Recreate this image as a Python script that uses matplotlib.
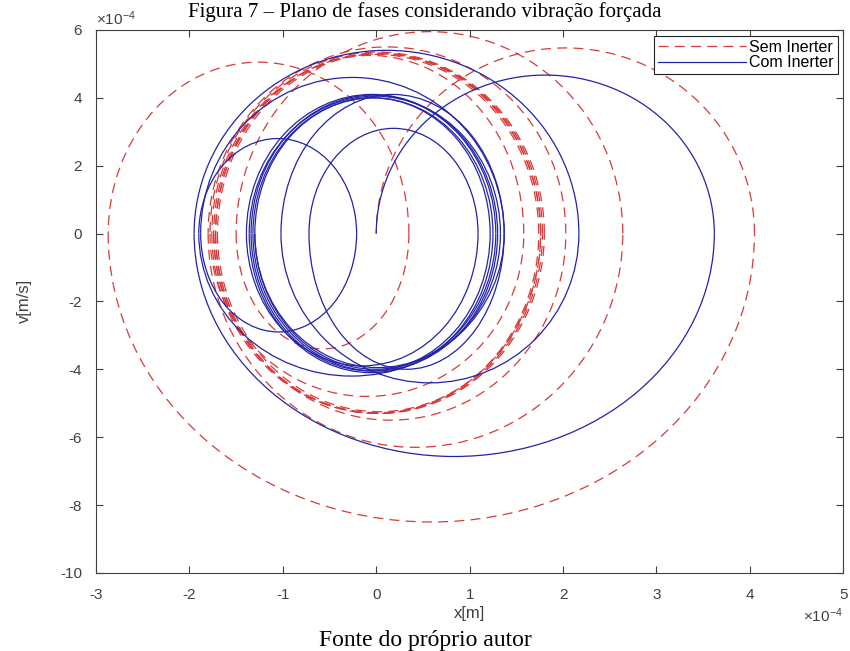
import matplotlib
matplotlib.use("Agg")
import matplotlib.pyplot as plt
from matplotlib.patches import Arc
from matplotlib.lines import Line2D

# leituras do grafico (unidades de 1e-4): cruzamentos em v=0 e pico de cada meia volta
x_sem = [0.0, 4.05, -2.87, 0.35, -1.50, 2.64, -1.80, 2.03, -1.72, 1.58, -1.78,
         1.80, -1.74, 1.76, -1.70, 1.78, -1.76, 1.74, -1.72, 1.76, -1.74]
v_sem = [5.47, -8.50, 5.05, -3.40, 5.95, -6.30, 5.50, -5.50, 5.25, -4.80,
         5.35, -5.30, 5.30, -5.25, 5.30, -5.30, 5.28, -5.30, 5.32, -5.28]

x_com = [0.0, 3.62, -1.95, 2.17, -1.02, 1.37, -1.90, -0.21, -1.88, 1.37, -0.72,
         1.09, -1.39, 1.30, -1.32, 1.25, -1.36, 1.33, -1.30, 1.22, -1.34, 1.28, -1.30]
v_com = [4.67, -6.57, 5.40, -4.40, 4.10, -4.20, 2.80, -2.90, 4.60, -4.00,
         3.10, -3.90, 4.10, -4.05, 4.00, -4.10, 4.05, -3.95, 4.00, -4.05, 4.08, -4.00]

xticks = [-3, -2, -1, 0, 1, 2, 3, 4, 5]
yticks = [-10, -8, -6, -4, -2, 0, 2, 4, 6]

cor_sem = '#d63a3a'
cor_com = '#2323a8'
cinza = '#404040'
traco = (0, (8, 5))

plt.rcParams['font.family'] = ['Liberation Sans', 'DejaVu Sans']
plt.rcParams['axes.unicode_minus'] = False

fig = plt.figure(figsize=(8.5, 6.51), dpi=100)
ax = fig.add_axes([0.113, 0.12, 0.879, 0.834])


def espiral(ax, xs, vs, cor, ls):
    # cada meia volta vira um arco de elipse entre dois cruzamentos
    for i in range(len(vs)):
        xa, xb = xs[i], xs[i + 1]
        if vs[i] > 0:
            t1, t2 = 0, 180
        else:
            t1, t2 = 180, 360
        arco = Arc(((xa + xb) / 2, 0), abs(xb - xa), 2 * abs(vs[i]),
                   theta1=t1, theta2=t2, color=cor, lw=0.9, ls=ls)
        ax.add_patch(arco)


espiral(ax, x_sem, v_sem, cor_sem, traco)
espiral(ax, x_com, v_com, cor_com, '-')

ax.set_xlim(-3, 5)
ax.set_ylim(-10, 6)
ax.set_xticks(xticks)
ax.set_yticks(yticks)
ax.tick_params(direction='in', top=True, right=True, length=5, width=0.8,
               labelsize=11, colors=cinza, labelcolor=cinza)
ax.tick_params(axis='x', pad=11)
ax.tick_params(axis='y', pad=10)
for s in ax.spines.values():
    s.set_color(cinza)
    s.set_linewidth(0.8)

ax.set_xlabel('x[m]', fontsize=12, color=cinza, labelpad=3)
ax.set_ylabel('v[m/s]', fontsize=12, color=cinza, labelpad=20)

ax.text(0.0, 1.004, r'$\mathregular{\times10^{-4}}$', transform=ax.transAxes,
        fontsize=11, color=cinza, ha='left', va='bottom')
ax.text(1.0, -0.062, r'$\mathregular{\times10^{-4}}$', transform=ax.transAxes,
        fontsize=11, color=cinza, ha='right', va='top')

handles = [Line2D([], [], color=cor_sem, lw=0.9, ls=traco),
           Line2D([], [], color=cor_com, lw=0.9)]
leg = ax.legend(handles, ['Sem Inerter', 'Com Inerter'], loc='upper right',
                fontsize=11.5, handlelength=5.5, handletextpad=0.2,
                borderaxespad=0.35, borderpad=0.25, labelspacing=0.05,
                fancybox=False, framealpha=1)
leg.get_frame().set_edgecolor('#222222')
leg.get_frame().set_linewidth(0.8)

fig.text(0.5, 1 - 17 / 651, 'Figura 7 \u2013 Plano de fases considerando vibração forçada',
         family='Liberation Serif', fontsize=15, ha='center', va='baseline')
fig.text(0.5, 1 - 646 / 651, 'Fonte do próprio autor',
         family='Liberation Serif', fontsize=17, ha='center', va='baseline')

fig.savefig('out.png', dpi=100)
